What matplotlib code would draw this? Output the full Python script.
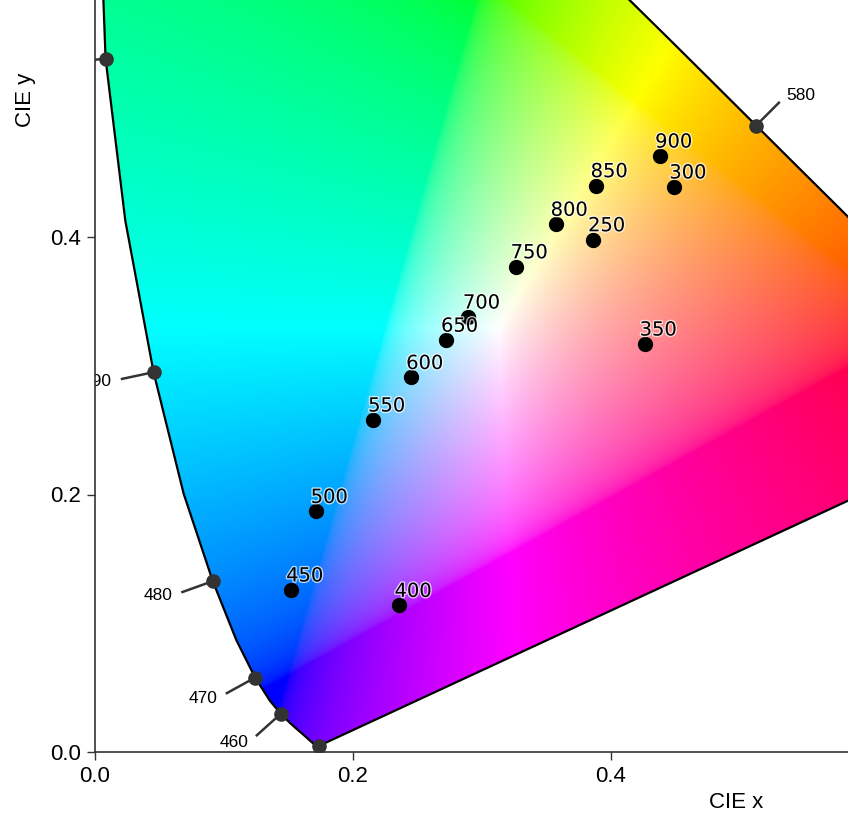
import numpy as np
import matplotlib
matplotlib.use("Agg")
import matplotlib.pyplot as plt
import matplotlib.patheffects as pe
from matplotlib.patches import Polygon

# CIE 1931 2 degree spectral locus (xy chromaticity), 380-700 nm in 5 nm steps
wavelengths = np.arange(380, 705, 5)
locus_x = [0.1741, 0.1740, 0.1738, 0.1736, 0.1733, 0.1730, 0.1726, 0.1721,
           0.1714, 0.1703, 0.1689, 0.1669, 0.1644, 0.1611, 0.1566, 0.1510,
           0.1440, 0.1355, 0.1241, 0.1096, 0.0913, 0.0687, 0.0454, 0.0235,
           0.0082, 0.0039, 0.0139, 0.0389, 0.0743, 0.1142, 0.1547, 0.1929,
           0.2296, 0.2658, 0.3016, 0.3373, 0.3731, 0.4087, 0.4441, 0.4788,
           0.5125, 0.5448, 0.5752, 0.6029, 0.6270, 0.6482, 0.6658, 0.6801,
           0.6915, 0.7006, 0.7079, 0.7140, 0.7190, 0.7230, 0.7260, 0.7283,
           0.7300, 0.7311, 0.7320, 0.7327, 0.7334, 0.7340, 0.7344, 0.7346,
           0.7347]
locus_y = [0.0050, 0.0050, 0.0049, 0.0049, 0.0048, 0.0048, 0.0048, 0.0048,
           0.0051, 0.0058, 0.0069, 0.0086, 0.0109, 0.0138, 0.0177, 0.0227,
           0.0297, 0.0399, 0.0578, 0.0868, 0.1327, 0.2007, 0.2950, 0.4127,
           0.5384, 0.6548, 0.7502, 0.8120, 0.8338, 0.8262, 0.8059, 0.7816,
           0.7543, 0.7243, 0.6923, 0.6589, 0.6245, 0.5896, 0.5547, 0.5202,
           0.4866, 0.4544, 0.4242, 0.3965, 0.3725, 0.3514, 0.3340, 0.3197,
           0.3083, 0.2993, 0.2920, 0.2859, 0.2809, 0.2770, 0.2740, 0.2717,
           0.2700, 0.2689, 0.2680, 0.2673, 0.2666, 0.2660, 0.2656, 0.2654,
           0.2653]

# wavelengths marked on the locus
marked_wavelengths = [390, 460, 470, 480, 490, 500, 510, 520, 540, 560,
                      580, 600, 620, 700]

# measured points
point_labels = ["250", "300", "350", "400", "450", "500", "550", "600",
                "650", "700", "750", "800", "850", "900"]
point_x = [0.386, 0.449, 0.426, 0.236, 0.152, 0.171, 0.2155, 0.245,
           0.272, 0.289, 0.326, 0.357, 0.388, 0.438]
point_y = [0.398, 0.439, 0.317, 0.114, 0.126, 0.187, 0.258, 0.291,
           0.320, 0.338, 0.377, 0.410, 0.440, 0.463]

lx = np.array(locus_x)
ly = np.array(locus_y)
xmax = 753 / 1290
ymax = 752 / 1287.5

fig = plt.figure(figsize=(8.48, 8.24), dpi=100)
ax = fig.add_axes([95 / 848, 72 / 824, 753 / 848, 752 / 824])

# chromaticity colours: xy -> XYZ -> sRGB, normalised to max channel
n = 900
gx, gy = np.meshgrid(np.linspace(0, 0.8, n), np.linspace(0.9, 0.001, n))
X = gx / gy
Y = np.ones_like(gx)
Z = (1 - gx - gy) / gy
M = np.array([[3.2404542, -1.5371385, -0.4985314],
              [-0.9692660, 1.8760108, 0.0415560],
              [0.0556434, -0.2040259, 1.0572252]])
rgb = np.einsum("ij,...j->...i", M, np.dstack([X, Y, Z]))
rgb = np.where(rgb <= 0.0031308, rgb * 12.92,
               1.055 * np.abs(rgb) ** (1 / 2.4) - 0.055)
rgb = rgb / rgb.max(axis=-1, keepdims=True)
rgb = np.clip(rgb, 0, 1)

im = ax.imshow(rgb, extent=(0, 0.8, 0.001, 0.9), origin="upper",
               interpolation="bilinear", zorder=1)
poly = Polygon(np.column_stack([lx, ly]), closed=True, facecolor="none",
               edgecolor="none")
ax.add_patch(poly)
im.set_clip_path(poly)

# spectral locus and purple line
ax.plot(np.append(lx, lx[0]), np.append(ly, ly[0]), color="black",
        lw=1.6, zorder=2)

# wavelength markers with little ticks pointing outwards
centre = np.array([1 / 3, 1 / 3])
for wl in marked_wavelengths:
    i = int(np.where(wavelengths == wl)[0][0])
    p = np.array([lx[i], ly[i]])
    a = np.array([lx[max(i - 1, 0)], ly[max(i - 1, 0)]])
    b = np.array([lx[min(i + 1, len(lx) - 1)], ly[min(i + 1, len(lx) - 1)]])
    d = b - a
    normal = np.array([-d[1], d[0]])
    normal = normal / np.linalg.norm(normal)
    if np.dot(normal, p - centre) < 0:
        normal = -normal
    normal = normal / 30
    ax.plot([p[0], p[0] + normal[0] * 0.75], [p[1], p[1] + normal[1] * 0.75],
            color="#333333", lw=1.8, zorder=3)
    ax.plot(p[0], p[1], "o", color="#333333", ms=9.5, zorder=4)
    tx, ty = p[0] + normal[0], p[1] + normal[1]
    # labels whose anchor falls outside the view are not shown
    if not (0 <= tx <= xmax and 0 <= ty <= ymax):
        continue
    ax.text(tx, ty, str(wl),
            ha="left" if normal[0] >= 0 else "right", va="center",
            fontsize=12.5, family="Liberation Sans", clip_on=True, zorder=5)

# measured points
ax.plot(point_x, point_y, "o", color="black", ms=10, ls="none", zorder=6)
for lab, x, y in zip(point_labels, point_x, point_y):
    ax.annotate(lab, (x, y), xytext=(-3.5, 6), textcoords="offset points",
                ha="left", va="baseline", fontsize=14, family="DejaVu Sans",
                zorder=7,
                path_effects=[pe.withStroke(linewidth=2, foreground="white",
                                            alpha=0.7)])

ax.set_xlim(0, xmax)
ax.set_ylim(0, ymax)
ax.set_aspect("auto")
ax.set_xticks([0.0, 0.2, 0.4])
ax.set_yticks([0.0, 0.2, 0.4])
ax.set_xticklabels(["0.0", "0.2", "0.4"])
ax.set_yticklabels(["0.0", "0.2", "0.4"])
for lbl in ax.get_xticklabels() + ax.get_yticklabels():
    lbl.set_family("Liberation Sans")
    lbl.set_fontsize(16)
ax.tick_params(direction="out", length=6, width=1, color="#333333", pad=4)
ax.spines["top"].set_visible(False)
ax.spines["right"].set_visible(False)
for s in ["left", "bottom"]:
    ax.spines[s].set_color("#333333")
    ax.spines[s].set_linewidth(1.2)
    ax.spines[s].set_zorder(8)

fig.text(736 / 848, 1 - 803 / 824, "CIE x", ha="center", va="center",
         fontsize=16, family="Liberation Sans")
fig.text(25 / 848, 1 - 100 / 824, "CIE y", ha="center", va="center",
         rotation=90, fontsize=16, family="Liberation Sans")

fig.savefig("out.png", dpi=100)
